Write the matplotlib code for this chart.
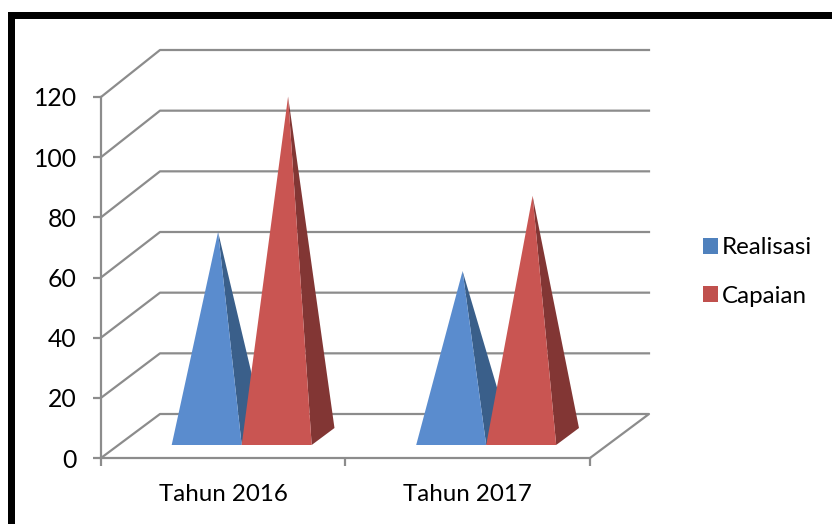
import matplotlib
matplotlib.use("Agg")
import matplotlib.pyplot as plt
from matplotlib.patches import Polygon, Patch, Rectangle
from matplotlib.ticker import NullFormatter

categories = ["Tahun 2016", "Tahun 2017"]
realisasi = [68, 55]
capaian = [113, 80]
series_names = ["Realisasi", "Capaian"]
y_ticks = [0, 20, 40, 60, 80, 100, 120]

W, H = 832, 524
FONT = "Lato"
FS = 17.4
GRID = "#8c8c8c"
front_colors = ["#5a8cce", "#c95552"]
side_colors = ["#3a5f8a", "#823634"]
legend_colors = ["#4f81bd", "#c0504d"]

fig = plt.figure(figsize=(W / 100, H / 100), dpi=100, facecolor="white")
ax = fig.add_axes([101 / W, 1 - 458 / H, 489 / W, 361 / H])
ax.set_xlim(0, len(categories))
ax.set_ylim(0, y_ticks[-1])
ax.patch.set_visible(False)

px_x = len(categories) / 489
px_y = y_ticks[-1] / 361
dep_x, dep_y = 59 * px_x, 44 * px_y
back_scale = 364 / 361

# walls
for v in y_ticks:
    if v == 0:
        ax.plot([0, dep_x, len(categories) + dep_x, len(categories)],
                [0, dep_y, dep_y, 0], color=GRID, lw=1.6, clip_on=False, zorder=1)
    else:
        ax.plot([0, dep_x, len(categories) + dep_x],
                [v, v * back_scale + dep_y, v * back_scale + dep_y],
                color=GRID, lw=1.6, clip_on=False, zorder=1)

# pyramids
bar_w = 70 * px_x
nudge = 1 * px_x
f0, f1 = 13 / 44, 30 / 44
z = 3
for i in range(len(categories)):
    left = i + 0.5 - bar_w + nudge
    for j, vals in enumerate([realisasi, capaian]):
        x0 = left + j * bar_w
        fx, fy = f0 * dep_x, f0 * dep_y
        bx, by = f1 * dep_x, f1 * dep_y
        apex = (x0 + bar_w / 2 + (fx + bx) / 2, vals[i] + (fy + by) / 2)
        a = (x0 + fx, fy)
        b = (x0 + bar_w + fx, fy)
        c = (x0 + bar_w + bx, by)
        ax.add_patch(Polygon([b, c, apex], closed=True, fc=side_colors[j],
                             ec="none", clip_on=False, zorder=z))
        ax.add_patch(Polygon([a, b, apex], closed=True, fc=front_colors[j],
                             ec="none", clip_on=False, zorder=z + 1))
        z += 2

# axes
for s in ["top", "right"]:
    ax.spines[s].set_visible(False)
for s in ["left", "bottom"]:
    ax.spines[s].set_color(GRID)
    ax.spines[s].set_linewidth(1.6)
ax.set_yticks(y_ticks)
ax.set_xticks(range(len(categories) + 1))
ax.xaxis.set_major_formatter(NullFormatter())
ax.set_xticks([i + 0.5 for i in range(len(categories))], minor=True)
ax.set_xticklabels(categories, minor=True, fontsize=FS, family=FONT, color="black")
ax.tick_params(axis="x", which="minor", length=0, pad=19)
ax.tick_params(axis="both", which="major", color=GRID, width=1.6, length=6)
ax.tick_params(axis="y", labelsize=FS + 0.4, pad=11.5, labelcolor="black")
for t in ax.get_yticklabels():
    t.set_family(FONT)

# legend
handles = [Patch(fc=c, ec="none", label=n) for c, n in zip(legend_colors, series_names)]
fig.legend(handles=handles, loc="center left", frameon=False,
           bbox_to_anchor=(698 / W, 1 - 272 / H),
           prop={"family": FONT, "size": FS}, handlelength=0.62, handleheight=0.62,
           handletextpad=0.16, labelspacing=1.13, borderpad=0.2, borderaxespad=0)

# outer frame
fig.add_artist(Rectangle((8 / W, 0), 7 / W, 1 - 12 / H, transform=fig.transFigure,
                         fc="black", ec="none"))
fig.add_artist(Rectangle((8 / W, 1 - 19 / H), 1 - 8 / W, 7 / H, transform=fig.transFigure,
                         fc="black", ec="none"))

fig.savefig("out.png", dpi=100)
